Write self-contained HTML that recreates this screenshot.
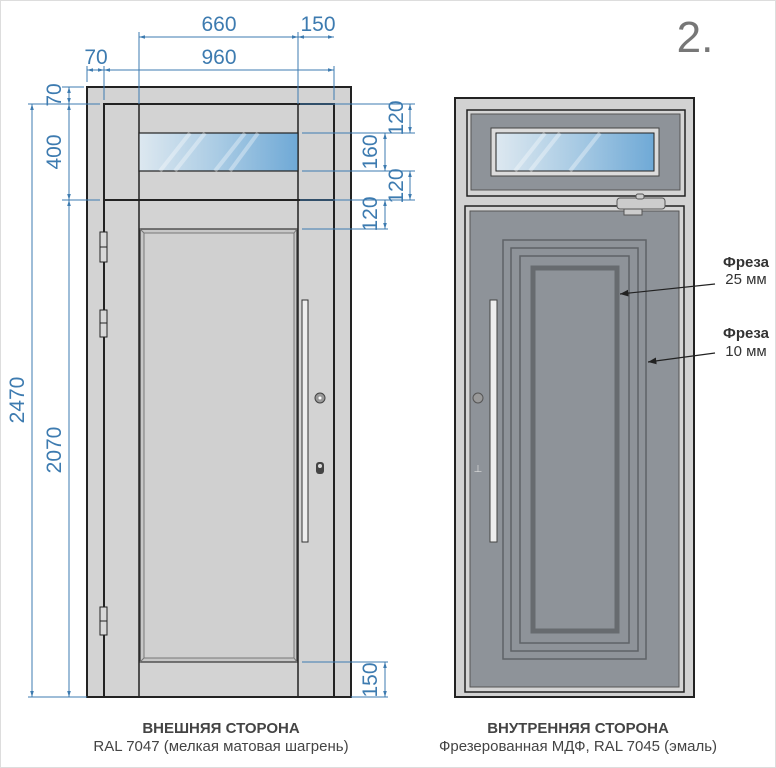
<!DOCTYPE html>
<html><head><meta charset="utf-8"><style>body{margin:0;background:#fff}svg{display:block}</style></head><body>
<svg width="776" height="768" viewBox="0 0 776 768" xmlns="http://www.w3.org/2000/svg" font-family="Liberation Sans, sans-serif">
<defs>
<linearGradient id="gl" x1="0" y1="0" x2="1" y2="0"><stop offset="0" stop-color="#dde8f0"/><stop offset="0.5" stop-color="#a9cbe4"/><stop offset="1" stop-color="#6fa9d6"/></linearGradient>
<marker id="a" viewBox="0 0 10 10" refX="10" refY="5" markerWidth="6" markerHeight="6" orient="auto-start-reverse"><path d="M0,2 L10,5 L0,8 z" fill="#3d7bb0"/></marker>
<marker id="k" viewBox="0 0 10 10" refX="10" refY="5" markerWidth="7" markerHeight="7" orient="auto"><path d="M0,1 L10,5 L0,9 z" fill="#222"/></marker>
</defs>
<rect x="0.5" y="0.5" width="775" height="767" fill="#fff" stroke="#ddd"/>
<text x="695" y="52" font-size="44" fill="#777" text-anchor="middle">2.</text>

<!-- LEFT DOOR -->
<rect x="87" y="87" width="264" height="610" fill="#d3d3d3" stroke="#222" stroke-width="2"/>
<rect x="104" y="104" width="230" height="593" fill="#d3d3d3" stroke="#222" stroke-width="2"/>
<line x1="104" y1="200" x2="334" y2="200" stroke="#222" stroke-width="2"/>
<line x1="139" y1="104" x2="139" y2="697" stroke="#222" stroke-width="1.5"/>
<line x1="298" y1="104" x2="298" y2="697" stroke="#222" stroke-width="1.5"/>
<rect x="139" y="133" width="159" height="38" fill="url(#gl)" stroke="#222" stroke-width="1.2"/>
<path d="M160 171 L190 133 M175 171 L205 133 M215 171 L245 133 M230 171 L258 133" stroke="#fff" stroke-opacity="0.35" stroke-width="4"/>
<rect x="140" y="229" width="157" height="433" fill="#c7c7c7" stroke="#333" stroke-width="1.2"/>
<rect x="144" y="233" width="150" height="425" fill="#d0d0d0" stroke="#777" stroke-width="1"/>
<path d="M140 229 L144 233 M297 229 L294 233 M140 662 L144 658 M297 662 L294 658" stroke="#777"/>
<g fill="#d8d8d8" stroke="#222" stroke-width="1">
<rect x="100" y="232" width="7" height="30"/><line x1="100" y1="247" x2="107" y2="247"/>
<rect x="100" y="310" width="7" height="27"/><line x1="100" y1="323" x2="107" y2="323"/>
<rect x="100" y="607" width="7" height="28"/><line x1="100" y1="621" x2="107" y2="621"/>
</g>
<rect x="302" y="300" width="6" height="242" fill="#eee" stroke="#333"/>
<circle cx="320" cy="398" r="5" fill="#999" stroke="#444"/><circle cx="320" cy="398" r="1.5" fill="#fff"/>
<rect x="316" y="462" width="8" height="12" rx="3" fill="#444"/><circle cx="320" cy="466" r="2" fill="#ddd"/>

<!-- DIMENSIONS -->
<g stroke="#3d7bb0" stroke-width="1" fill="none">
<line x1="139" y1="32" x2="139" y2="104"/><line x1="298" y1="32" x2="298" y2="104"/><line x1="334" y1="66" x2="334" y2="100"/><line x1="87" y1="66" x2="87" y2="82"/><line x1="104" y1="66" x2="104" y2="100"/>
<line x1="139" y1="37" x2="298" y2="37" marker-start="url(#a)" marker-end="url(#a)"/>
<line x1="298" y1="37" x2="334" y2="37" marker-start="url(#a)" marker-end="url(#a)"/>
<line x1="104" y1="70" x2="334" y2="70" marker-start="url(#a)" marker-end="url(#a)"/>
<line x1="87" y1="70" x2="104" y2="70" marker-start="url(#a)" marker-end="url(#a)"/>
<line x1="28" y1="104" x2="100" y2="104"/><line x1="62" y1="87" x2="84" y2="87"/><line x1="62" y1="200" x2="100" y2="200"/><line x1="28" y1="697" x2="87" y2="697"/>
<line x1="32" y1="104" x2="32" y2="697" marker-start="url(#a)" marker-end="url(#a)"/>
<line x1="69" y1="200" x2="69" y2="697" marker-start="url(#a)" marker-end="url(#a)"/>
<line x1="69" y1="104" x2="69" y2="200" marker-start="url(#a)" marker-end="url(#a)"/>
<line x1="69" y1="87" x2="69" y2="104" marker-start="url(#a)" marker-end="url(#a)"/>
<line x1="300" y1="104" x2="415" y2="104"/><line x1="302" y1="133" x2="415" y2="133"/><line x1="302" y1="171" x2="415" y2="171"/><line x1="300" y1="200" x2="415" y2="200"/><line x1="302" y1="229" x2="388" y2="229"/><line x1="302" y1="662" x2="388" y2="662"/><line x1="351" y1="697" x2="388" y2="697"/>
<line x1="410" y1="104" x2="410" y2="133" marker-start="url(#a)" marker-end="url(#a)"/>
<line x1="385" y1="133" x2="385" y2="171" marker-start="url(#a)" marker-end="url(#a)"/>
<line x1="410" y1="171" x2="410" y2="200" marker-start="url(#a)" marker-end="url(#a)"/>
<line x1="385" y1="200" x2="385" y2="229" marker-start="url(#a)" marker-end="url(#a)"/>
<line x1="385" y1="662" x2="385" y2="697" marker-start="url(#a)" marker-end="url(#a)"/>
</g>
<g fill="#3d7bb0" font-size="21" text-anchor="middle">
<text x="219" y="31">660</text><text x="318" y="31">150</text>
<text x="219" y="64">960</text><text x="96" y="64">70</text>
<text transform="translate(64,95) rotate(-90)" dy="-3">70</text>
<text transform="translate(64,152) rotate(-90)" dy="-3">400</text>
<text transform="translate(64,450) rotate(-90)" dy="-3">2070</text>
<text transform="translate(27,400) rotate(-90)" dy="-3">2470</text>
<text transform="translate(406,118) rotate(-90)" dy="-3">120</text>
<text transform="translate(380,152) rotate(-90)" dy="-3">160</text>
<text transform="translate(406,186) rotate(-90)" dy="-3">120</text>
<text transform="translate(380,214) rotate(-90)" dy="-3">120</text>
<text transform="translate(380,680) rotate(-90)" dy="-3">150</text>
</g>

<!-- RIGHT DOOR -->
<rect x="455" y="98" width="239" height="599" fill="#d2d2d2" stroke="#222" stroke-width="2"/>
<rect x="467" y="110" width="218" height="86" fill="#d5d5d5" stroke="#222" stroke-width="1.5"/>
<rect x="471" y="114" width="209" height="76" fill="#8e9399" stroke="#555" stroke-width="1"/>
<rect x="491" y="128" width="168" height="48" fill="#dcdcdc" stroke="#444"/>
<rect x="496" y="133" width="158" height="38" fill="url(#gl)" stroke="#222"/>
<path d="M515 171 L545 133 M530 171 L560 133 M570 171 L600 133" stroke="#fff" stroke-opacity="0.35" stroke-width="4"/>
<rect x="465" y="206" width="219" height="486" fill="#d5d5d5" stroke="#222" stroke-width="1.5"/>
<rect x="470" y="211" width="209" height="476" fill="#8e9399" stroke="#555"/>
<g fill="none" stroke="#5f6367" stroke-width="1.5">
<rect x="503" y="240" width="143" height="419"/>
<rect x="511" y="248" width="127" height="403"/>
<rect x="520" y="256" width="109" height="387"/>
</g>
<rect x="533" y="268" width="84" height="363" fill="#8e9399" stroke="#676b6f" stroke-width="5"/>
<rect x="490" y="300" width="7" height="242" fill="#eee" stroke="#444"/>
<circle cx="478" cy="398" r="5" fill="#999" stroke="#555"/>
<text x="478" y="472" font-size="10" fill="#ddd" text-anchor="middle">⊥</text>
<g fill="#ccc" stroke="#555" stroke-width="1">
<rect x="617" y="198" width="48" height="11" rx="3"/><rect x="624" y="209" width="18" height="6"/><rect x="636" y="194" width="8" height="5" rx="2"/>
</g>

<g stroke="#222" stroke-width="1.2">
<line x1="715" y1="284" x2="620" y2="294" marker-end="url(#k)"/>
<line x1="715" y1="353" x2="648" y2="362" marker-end="url(#k)"/>
</g>
<g fill="#333" font-size="15" text-anchor="middle">
<text x="746" y="267" font-weight="bold">Фреза</text><text x="746" y="284">25 мм</text>
<text x="746" y="338" font-weight="bold">Фреза</text><text x="746" y="356">10 мм</text>
</g>

<g fill="#444" font-size="15" text-anchor="middle">
<text x="221" y="733" font-weight="bold">ВНЕШНЯЯ СТОРОНА</text>
<text x="221" y="751">RAL 7047 (мелкая матовая шагрень)</text>
<text x="578" y="733" font-weight="bold">ВНУТРЕННЯЯ СТОРОНА</text>
<text x="578" y="751">Фрезерованная МДФ, RAL 7045 (эмаль)</text>
</g>
</svg>
</body></html>
